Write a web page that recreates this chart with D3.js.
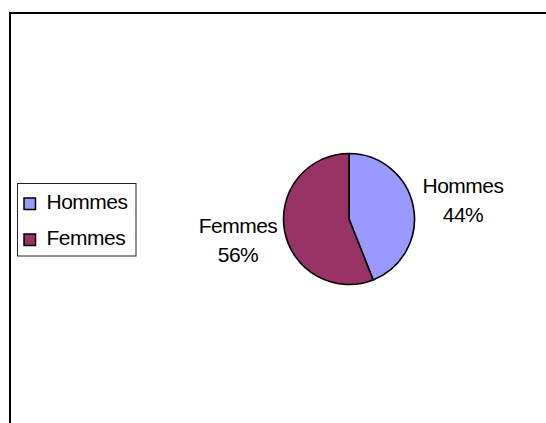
<!DOCTYPE html>
<html>
<head>
<meta charset="utf-8">
<script src="https://cdn.jsdelivr.net/npm/d3@7"></script>
<style>
  html, body { margin: 0; padding: 0; background: #fff; }
  svg { display: block; }
  text { font-family: "Liberation Sans", Arial, sans-serif; fill: #000; }
</style>
</head>
<body>
<svg id="chart" width="546" height="423"></svg>
<script>
const categories = ["Hommes", "Femmes"];
const values = [44, 56];
const colors = ["#9999FF", "#993366"];
const pctLabels = ["44%", "56%"];

const svg = d3.select("#chart");

// outer frame (extends beyond the visible window)
svg.append("rect")
  .attr("x", 10).attr("y", 13)
  .attr("width", 600).attr("height", 500)
  .attr("fill", "#fff").attr("stroke", "#000").attr("stroke-width", 2);

const cx = 349, cy = 219, r = 65.5;
const pie = d3.pie().sort(null).value(d => d.value);
const arcs = pie(categories.map((c, i) => ({ name: c, value: values[i], color: colors[i], pct: pctLabels[i] })));
const arc = d3.arc().innerRadius(0).outerRadius(r);

const g = svg.append("g").attr("transform", `translate(${cx},${cy})`);
g.selectAll("path").data(arcs).enter().append("path")
  .attr("d", arc)
  .attr("fill", d => d.data.color)
  .attr("stroke", "#000").attr("stroke-width", 1.6)
  .attr("stroke-linejoin", "round");

// labels outside
const labelPos = [[463, 193], [238, 233]];
arcs.forEach((d, i) => {
  const t = svg.append("text")
    .attr("text-anchor", "middle")
    .attr("font-size", 21)
    .attr("letter-spacing", -0.5);
  t.append("tspan").attr("x", labelPos[i][0]).attr("y", labelPos[i][1]).text(d.data.name);
  t.append("tspan").attr("x", labelPos[i][0]).attr("y", labelPos[i][1] + 28.5).text(d.data.pct);
});

// legend
const lg = svg.append("g");
lg.append("rect")
  .attr("x", 17.5).attr("y", 183.5).attr("width", 118.5).attr("height", 72.5)
  .attr("fill", "#fff").attr("stroke", "#222").attr("stroke-width", 1);
const ly = d3.scalePoint().domain(categories).range([209, 245]);
categories.forEach((c, i) => {
  lg.append("rect")
    .attr("x", 24).attr("y", ly(c) - 11).attr("width", 11.5).attr("height", 11.5)
    .attr("fill", colors[i]).attr("stroke", "#000").attr("stroke-width", 1.5);
  lg.append("text")
    .attr("x", 46.5).attr("y", ly(c))
    .attr("font-size", 21)
    .attr("letter-spacing", -0.5)
    .text(c);
});
</script>
</body>
</html>
